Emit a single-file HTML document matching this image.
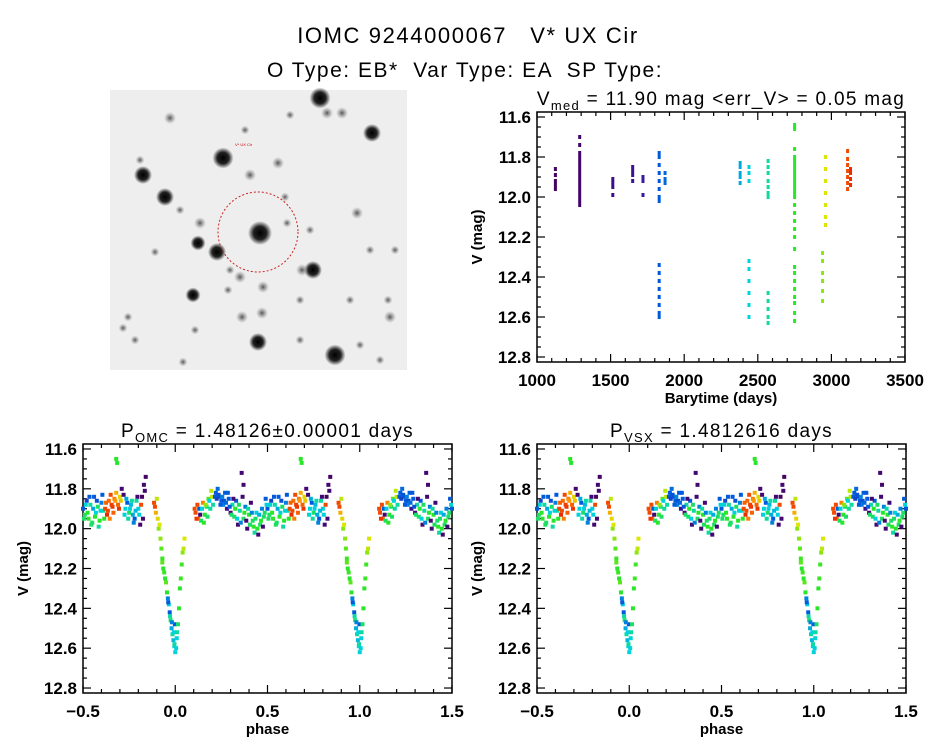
<!DOCTYPE html>
<html><head><meta charset="utf-8">
<style>
html,body{margin:0;padding:0;background:#fff;}
body{width:944px;height:747px;overflow:hidden;position:relative;font-family:"Liberation Sans",sans-serif;}
svg text{font-family:"Liberation Sans",sans-serif;}
</style></head>
<body>
<svg id="root" width="944" height="747" viewBox="0 0 944 747" xmlns="http://www.w3.org/2000/svg">
  <defs>
    <radialGradient id="starg"><stop offset="0" stop-color="#000"/><stop offset="0.55" stop-color="#222"/><stop offset="1" stop-color="#222" stop-opacity="0"/></radialGradient>
    <radialGradient id="starf"><stop offset="0" stop-color="#555"/><stop offset="1" stop-color="#888" stop-opacity="0"/></radialGradient>
  </defs>
  <text x="468" y="43" font-size="22" letter-spacing="1.6" text-anchor="middle" xml:space="preserve">IOMC 9244000067   V* UX Cir</text>
  <text x="465" y="77" font-size="21" letter-spacing="1.5" text-anchor="middle" xml:space="preserve">O Type: EB*  Var Type: EA  SP Type:</text>
  <g id="sky"></g>
  <g id="ts"></g>
  <g id="p1"></g>
  <g id="p2"></g>
</svg>
<script>
// ---------- DATA ----------
const clusterTimes = [1125,1290,1515,1650,1720,1830,1870,2380,2440,2570,2750,2940,2960,3110,3130];
const clusterColors = [0.02,0.04,0.10,0.12,0.16,0.30,0.32,0.40,0.45,0.50,0.60,0.70,0.78,0.95,0.98];
const clusterMags = [
 [11.86,11.89,11.92,11.94,11.96],
 [11.70,11.74,11.78,11.80,11.82,11.84,11.86,11.88,11.90,11.92,11.94,11.96,11.98,12.00,12.02,12.04],
 [11.91,11.93,11.95,11.99],
 [11.85,11.87,11.89,11.92],
 [11.90,11.92,11.99],
 [11.78,11.80,11.84,11.88,11.92,11.96,12.00,12.02,12.34,12.38,12.42,12.46,12.50,12.54,12.58,12.60],
 [11.88,11.91,11.93],
 [11.83,11.85,11.88,11.90,11.93],
 [11.85,11.88,11.92,12.32,12.36,12.42,12.48,12.54,12.60],
 [11.82,11.85,11.88,11.92,11.95,11.98,12.00,12.48,12.52,12.56,12.60,12.63],
 [11.64,11.66,11.76,11.80,11.82,11.84,11.86,11.88,11.90,11.92,11.94,11.96,11.98,12.00,12.04,12.08,12.12,12.16,12.20,12.26,12.35,12.38,12.42,12.46,12.50,12.53,12.58,12.62],
 [12.28,12.32,12.38,12.42,12.47,12.52],
 [11.80,11.86,11.92,11.98,12.04,12.10,12.14],
 [11.77,11.81,11.84,11.87,11.90,11.93,11.96],
 [11.86,11.88,11.91,11.94]
];
const phases = [0.50,0.51,0.52,0.53,0.54,0.55,0.56,0.57,0.58,0.59,0.60,0.61,
 0.62,0.63,0.64,0.65,0.66,0.67,0.68,0.68,0.685,0.69,0.70,0.71,0.72,
 0.73,0.74,0.75,0.76,0.77,0.78,0.79,0.80,0.81,0.82,0.83,0.84,
 0.885,0.89,0.895,0.90,0.905,0.91,0.92,0.925,0.93,0.935,0.95,0.955,0.96,0.965,0.97,0.975,0.98,0.985,0.99,0.995,1.0,0.998,
 0.01,0.02,0.025,0.03,0.035,0.04,0.05,
 0.11,0.12,0.125,0.13,0.14,0.15,0.16,0.17,0.18,0.19,0.20,
 0.22,0.23,0.24,0.25,0.26,0.27,0.28,0.29,0.30,
 0.31,0.32,0.33,0.34,0.35,0.36,0.37,0.37,0.38,0.39,0.40,0.41,0.42,0.43,0.44,0.45,0.46,0.47,0.48,0.49,
 0.505,0.515,0.525,0.535,0.545,0.555,0.565,0.575,0.585,0.595,0.605,0.615,
 0.625,0.635,0.645,0.655,0.665,0.675,0.695,0.705,
 0.725,0.735,0.745,0.755,0.765,0.775,0.785,0.795,0.805,0.815,0.825,0.835,
 0.105,0.115,0.135,0.145,0.155,0.165,0.175,0.185,0.195,0.205,
 0.215,0.225,0.235,0.245,0.255,0.265,0.275,0.285,0.295,
 0.305,0.315,0.325,0.335,0.345,0.355,0.365,0.375,0.385,0.395,0.405,0.415,0.425,0.435,0.445,0.455,0.465,0.475,0.485,0.495,
 0.94,0.945,0.962,0.972,0.982,0.992,0.996,0.005,0.008,0.015,0.045,0.915,0.93];
const phaseMags = [11.90,11.93,11.86,11.95,11.88,11.97,11.84,11.92,11.89,11.96,11.87,11.91,
 11.90,11.93,11.86,11.83,11.89,11.85,11.82,11.65,11.67,11.88,11.84,11.80,11.83,
 11.90,11.87,11.92,11.88,11.93,11.95,11.86,11.90,11.98,11.84,11.78,11.74,
 11.87,11.89,11.92,11.85,11.95,12.00,12.05,12.10,12.15,12.20,12.27,12.32,12.35,12.38,12.42,12.46,12.50,12.53,12.56,12.59,12.62,12.48,
 12.52,12.40,12.30,12.25,12.18,12.12,12.05,
 11.92,11.88,11.95,11.90,11.96,11.87,11.93,11.89,11.85,11.90,11.84,
 11.82,11.80,11.84,11.86,11.88,11.82,11.90,11.85,11.92,
 11.88,11.94,11.86,11.98,11.91,11.72,11.78,11.95,11.89,12.00,11.93,11.87,11.96,12.02,11.92,12.03,11.98,11.90,11.94,11.85,
 11.95,11.88,11.92,11.84,11.98,11.90,11.94,11.86,11.99,11.91,11.83,11.95,
 11.87,11.91,11.95,11.88,11.92,11.86,11.90,11.86,
 11.93,11.85,11.95,11.90,11.86,11.97,11.91,11.84,11.93,11.88,11.95,11.81,
 11.90,11.95,11.93,11.90,11.97,11.88,11.94,11.86,11.81,11.88,
 11.84,11.85,11.83,11.88,11.84,11.86,11.87,11.82,11.89,
 11.93,11.85,11.90,11.95,11.88,11.97,11.84,11.92,11.96,11.90,11.98,11.92,11.99,11.95,12.00,11.93,11.96,11.99,11.92,11.88,
 12.22,12.25,12.37,12.44,12.47,12.52,12.58,12.60,12.55,12.48,12.10,11.98,12.17];
const phaseColors = [0.30,0.55,0.25,0.60,0.50,0.55,0.30,0.45,0.55,0.60,0.35,0.50,
 0.95,0.98,0.92,0.95,0.97,0.90,0.85,0.60,0.60,0.93,0.80,0.05,0.05,
 0.45,0.30,0.55,0.42,0.40,0.30,0.50,0.45,0.05,0.02,0.05,0.02,
 0.95,0.95,0.85,0.75,0.80,0.70,0.70,0.65,0.62,0.60,0.65,0.60,0.35,0.45,0.30,0.55,0.40,0.50,0.42,0.45,0.45,0.30,
 0.50,0.60,0.60,0.62,0.62,0.70,0.78,
 0.95,0.95,0.92,0.30,0.55,0.90,0.60,0.55,0.65,0.50,0.75,
 0.30,0.32,0.28,0.30,0.35,0.30,0.10,0.30,0.05,
 0.50,0.55,0.30,0.05,0.50,0.05,0.05,0.55,0.35,0.05,0.60,0.05,0.55,0.50,0.45,0.05,0.55,0.35,0.55,0.30,
 0.55,0.45,0.60,0.30,0.55,0.40,0.60,0.28,0.50,0.45,0.30,0.60,
 0.93,0.95,0.90,0.96,0.93,0.88,0.97,0.82,
 0.45,0.40,0.50,0.45,0.50,0.35,0.42,0.05,0.45,0.95,0.05,0.05,
 0.95,0.97,0.05,0.45,0.60,0.70,0.55,0.45,0.75,0.50,
 0.30,0.25,0.28,0.30,0.35,0.28,0.32,0.30,0.30,
 0.55,0.05,0.60,0.45,0.55,0.35,0.05,0.60,0.05,0.50,0.55,0.35,0.60,0.55,0.60,0.40,0.60,0.05,0.55,0.45,
 0.62,0.60,0.30,0.50,0.35,0.45,0.50,0.45,0.45,0.55,0.75,0.78,0.65];
const timeTicks = [1000,1500,2000,2500,3000,3500];
const magTicks = [11.6,11.8,12.0,12.2,12.4,12.6,12.8];
const magTickLabels = ["11.6","11.8","12.0","12.2","12.4","12.6","12.8"];
const phaseTicks = [-0.5,0.0,0.5,1.0,1.5];
const phaseTickLabels = ["\u22120.5","0.0","0.5","1.0","1.5"];
const stars = [[320,98,7],[327,113,4],[342,113,4],[372,133,6],[170,118,4],[223,158,7],[143,175,6],[250,175,4],[278,163,4],[165,197,6],[260,233,8],[198,243,5],[217,252,6],[200,223,4],[313,270,6],[302,270,4],[357,213,4],[193,295,5],[263,287,4],[242,317,4],[262,313,4],[258,342,6],[335,355,7],[390,317,4],[128,317,3],[123,328,3],[183,362,3],[155,252,3],[240,277,4],[285,197,3],[287,223,3],[230,270,3],[180,210,3],[140,160,3],[388,300,3],[380,360,3],[300,300,3],[350,300,3],[370,250,3],[395,250,3],[290,115,3],[245,130,3],[195,330,3],[135,340,3],[300,340,3],[360,345,3],[228,290,3],[310,230,3]];

// ---------- helpers ----------
const NS="http://www.w3.org/2000/svg";
function mk(tag,attrs,parent){const e=document.createElementNS(NS,tag);for(const k in attrs)e.setAttribute(k,attrs[k]);parent.appendChild(e);return e;}
function rainbow(v){
  const stops=[[0,[70,0,90]],[0.15,[60,20,160]],[0.3,[0,90,220]],[0.45,[0,210,220]],[0.6,[40,230,40]],[0.78,[220,230,0]],[0.88,[255,150,0]],[1,[230,20,0]]];
  for(let i=1;i<stops.length;i++){if(v<=stops[i][0]){const a=stops[i-1],b=stops[i];const f=(v-a[0])/(b[0]-a[0]);
    const c=a[1].map((x,j)=>Math.round(x+(b[1][j]-x)*f));return `rgb(${c[0]},${c[1]},${c[2]})`;}}
  return "rgb(230,20,0)";
}

// ---------- sky image ----------
(function(){
  const g=document.getElementById('sky');
  const r=mk('rect',{x:110,y:90,width:297,height:280,fill:'#eeeeee'},g);
  
  
  stars.forEach(s=>{
    const c=mk('circle',{cx:s[0],cy:s[1],r:s[2]*1.5,fill:s[2]>=5?'url(#starg)':'url(#starf)'},g);
    
    
  });
  const ci=mk('circle',{cx:258,cy:232,r:40,fill:'none',stroke:'#c22','stroke-width':1,'stroke-dasharray':'2,2'},g);
  
  
  const t=mk('text',{x:235,y:146,'font-size':4,fill:'#c00'},g);t.textContent='V* UX Cir';
  
  
})();

// ---------- axes ----------
function axes(g,box,xmin,xmax,ymin,ymax,xt,xtl,xminor,ymajor,yminor,title,xlabel){
  const X=v=>box.x+(v-xmin)/(xmax-xmin)*box.w;
  const Y=v=>box.y+(v-ymin)/(ymax-ymin)*box.h;
  const fr=mk('rect',{x:box.x,y:box.y,width:box.w,height:box.h,fill:'none',stroke:'#000','stroke-width':1.5},g);
  
  
  for(let v=xmin;v<=xmax+1e-9;v+=xminor){
    const major=xt.some(t=>Math.abs(t-v)<1e-6);const L=major?8:4;
    mk('line',{x1:X(v),x2:X(v),y1:box.y+box.h,y2:box.y+box.h-L,stroke:'#000','stroke-width':1.2},g);
    mk('line',{x1:X(v),x2:X(v),y1:box.y,y2:box.y+L,stroke:'#000','stroke-width':1.2},g);
  }
  const ystart=Math.ceil(ymin/yminor-1e-6)*yminor;
  for(let v=ystart;v<=ymax+1e-9;v+=yminor){
    const major=Math.abs(v/ymajor-Math.round(v/ymajor))<1e-4;const L=major?8:4;
    mk('line',{x1:box.x,x2:box.x+L,y1:Y(v),y2:Y(v),stroke:'#000','stroke-width':1.2},g);
    mk('line',{x1:box.x+box.w,x2:box.x+box.w-L,y1:Y(v),y2:Y(v),stroke:'#000','stroke-width':1.2},g);
  }
  xt.forEach((v,i)=>{const t=mk('text',{x:X(v),y:box.y+box.h+24,'font-size':17,'font-weight':'bold','text-anchor':'middle'},g);t.textContent=xtl[i];
    
    });
  magTicks.forEach((v,i)=>{const t=mk('text',{x:box.x-6,y:Y(v)+6,'font-size':17,'font-weight':'bold','text-anchor':'end'},g);t.textContent=magTickLabels[i];
    
    });
  const yl=mk('text',{x:0,y:0,'font-size':15,'font-weight':'bold','text-anchor':'middle',transform:`translate(${box.x-55},${box.y+box.h/2}) rotate(-90)`},g);yl.textContent='V (mag)';
  
  
  const xl=mk('text',{x:box.x+box.w/2,y:box.y+box.h+41,'font-size':15,'font-weight':'bold','text-anchor':'middle'},g);xl.textContent=xlabel;
  
  
  const tt=mk('text',{x:box.x+box.w/2,y:box.y-7,'font-size':19,'letter-spacing':1.3,'text-anchor':'middle'},g);tt.innerHTML=title;
  
  
  return {X,Y};
}

// time series
(function(){
  const g=document.getElementById('ts');
  const box={x:537,y:112,w:368,h:250};
  const {X,Y}=axes(g,box,1000,3500,11.575,12.825,timeTicks,timeTicks.map(String),100,0.2,0.05,
    'V<tspan font-size="13" dy="5">med</tspan><tspan dy="-5"> = 11.90 mag &lt;err_V&gt; = 0.05 mag</tspan>','Barytime (days)');
  clusterTimes.forEach((t,i)=>{
    const col=rainbow(clusterColors[i]);
    clusterMags[i].forEach(m=>{
      const p=mk('rect',{x:X(t)-1.5,y:Y(m)-2,width:3,height:4,fill:col},g);
      
      
    });
  });
})();

// phase plots
function phasePlot(id,x0,title){
  const g=document.getElementById(id);
  const box={x:x0,y:444,w:369,h:249};
  const {X,Y}=axes(g,box,-0.5,1.5,11.575,12.825,phaseTicks,phaseTickLabels,0.1,0.2,0.05,title,'phase');
  phases.forEach((p,i)=>{
    [p-1,p,p+1].forEach(q=>{
      if(q<-0.5||q>1.5)return;
      const d=mk('rect',{x:X(q)-2,y:Y(phaseMags[i])-2,width:4,height:4,fill:rainbow(phaseColors[i])},g);
      
      
    });
  });
}
phasePlot('p1',83,'P<tspan font-size="13" dy="5">OMC</tspan><tspan dy="-5"> = 1.48126±0.00001 days</tspan>');
phasePlot('p2',537,'P<tspan font-size="13" dy="5">VSX</tspan><tspan dy="-5"> = 1.4812616 days</tspan>');
</script>
</body></html>
